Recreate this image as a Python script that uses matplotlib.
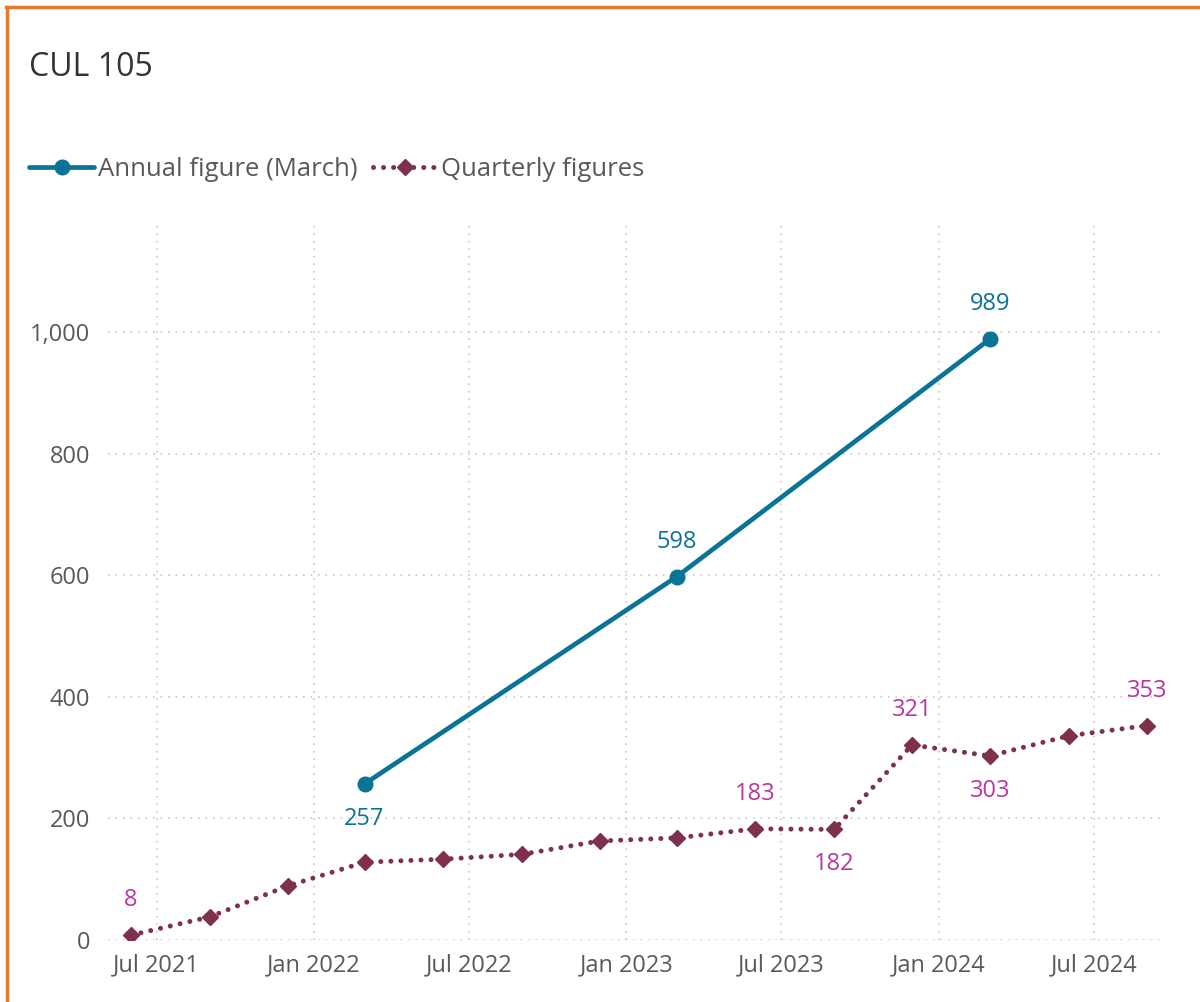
import matplotlib.pyplot as plt
import matplotlib.dates as mdates
from matplotlib.lines import Line2D
import numpy as np
from datetime import date

plt.rcParams['font.family'] = ['Open Sans', 'DejaVu Sans']

annual_dates = [date(2022, 3, 1), date(2023, 3, 1), date(2024, 3, 1)]
annual_vals = [257, 598, 989]

quarter_dates = [date(2021, 6, 1), date(2021, 9, 1), date(2021, 12, 1), date(2022, 3, 1),
                 date(2022, 6, 1), date(2022, 9, 1), date(2022, 12, 1), date(2023, 3, 1),
                 date(2023, 6, 1), date(2023, 9, 1), date(2023, 12, 1), date(2024, 3, 1),
                 date(2024, 6, 1), date(2024, 9, 1)]
quarter_vals = [8, 38, 89, 128, 133, 141, 163, 168, 183, 182, 321, 303, 336, 353]

# which points get a label, and above (+1) or below (-1)
annual_labels = {0: -1, 1: 1, 2: 1}
quarter_labels = {0: 1, 8: 1, 9: -1, 10: 1, 11: -1, 13: 1}

teal = '#0B7396'
maroon = '#80304F'
magenta = '#B8379E'
grey_txt = '#595959'

fig = plt.figure(figsize=(12, 10.02), dpi=100)
ax = fig.add_axes([0.09, 0.0619, 0.8767, 0.7185])

ax.plot(annual_dates, annual_vals, color=teal, lw=3.4, marker='o', ms=10.5,
        solid_capstyle='round', zorder=4, label='Annual figure (March)')
ax.plot(quarter_dates, quarter_vals, color=maroon, lw=3.6, ls=(0, (0.01, 2.0)),
        dash_capstyle='round', marker='D', ms=8.5, zorder=3, label='Quarterly figures')

for i, d in annual_labels.items():
    ax.annotate(str(annual_vals[i]), (annual_dates[i], annual_vals[i]),
                xytext=(0, 25 * d), textcoords='offset points',
                ha='center', va='center', color=teal, fontsize=17)
for i, d in quarter_labels.items():
    ax.annotate(str(quarter_vals[i]), (quarter_dates[i], quarter_vals[i]),
                xytext=(0, 25 * d), textcoords='offset points',
                ha='center', va='center', color=magenta, fontsize=17)

ax.set_xlim(date(2021, 5, 5), date(2024, 9, 16))
ax.set_ylim(0, 1185)
ax.set_yticks(np.arange(0, 1001, 200))
ax.yaxis.set_major_formatter(plt.FuncFormatter(lambda v, p: f'{int(v):,}'))
ax.xaxis.set_major_locator(mdates.MonthLocator(bymonth=[1, 7]))
ax.xaxis.set_major_formatter(mdates.DateFormatter('%b %Y'))

ax.grid(True, color='#C8C8C8', ls=(0, (1, 3.5)), lw=1.2)
for s in ax.spines.values():
    s.set_visible(False)
ax.tick_params(length=0, labelsize=17, colors=grey_txt)
ax.tick_params(axis='x', pad=10)
ax.tick_params(axis='y', pad=13)

fig.text(0.024, 1 - 67 / 1002, 'CUL 105', fontsize=23, color='#333333', va='center')

fig.legend(loc='center left', bbox_to_anchor=(0.016, 1 - 169 / 1002), ncol=2,
           frameon=False, fontsize=18.5, labelcolor=grey_txt, handlelength=2.5,
           handletextpad=0.15, columnspacing=0.6, borderaxespad=0)

orange = '#E8792A'
fig.add_artist(Line2D([0.005, 1], [1 - 7 / 1002] * 2, color=orange, lw=2.5,
                      transform=fig.transFigure))
fig.add_artist(Line2D([0.0055] * 2, [0, 1 - 7 / 1002], color=orange, lw=2.5,
                      transform=fig.transFigure))

fig.savefig('out.png', dpi=100)
